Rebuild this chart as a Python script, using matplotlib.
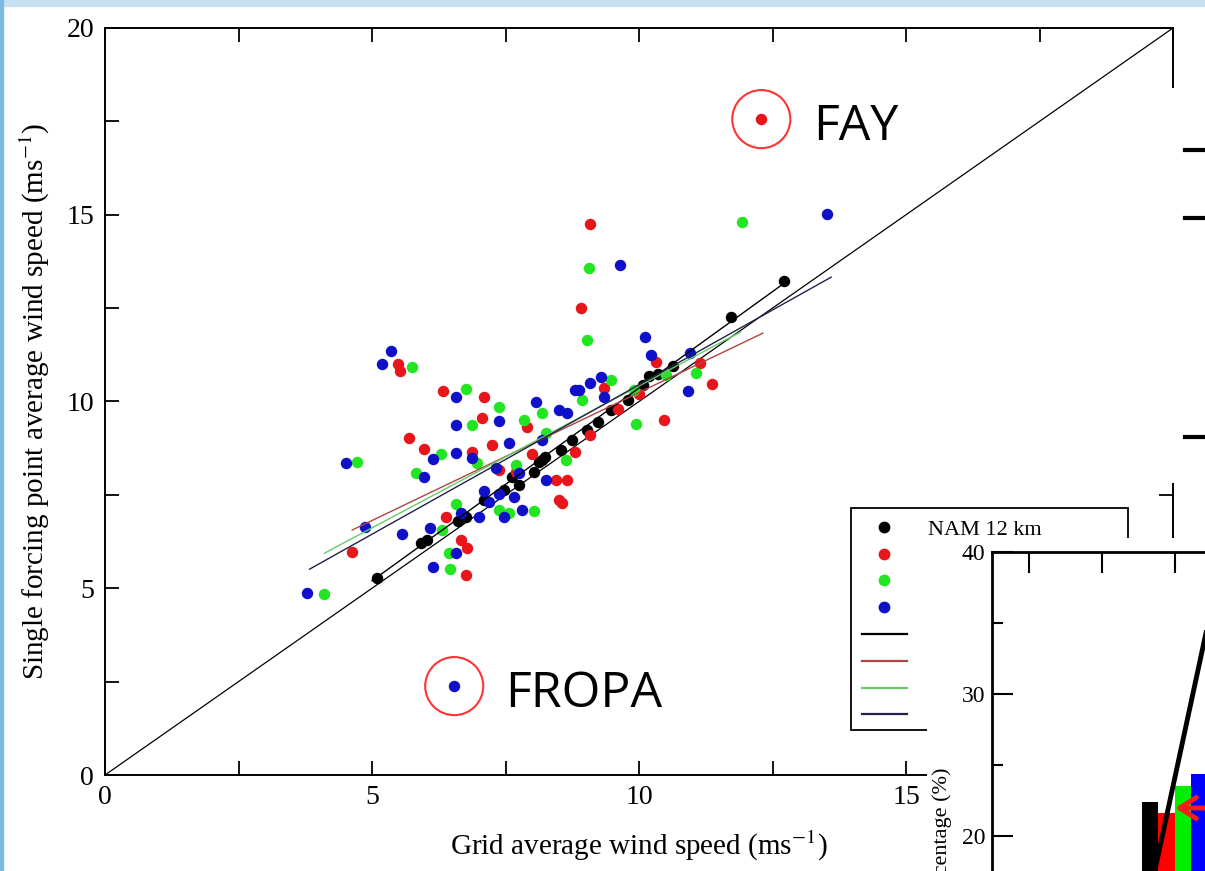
import matplotlib
matplotlib.use("Agg")
import matplotlib.pyplot as plt
from matplotlib.lines import Line2D
from matplotlib.patches import Rectangle
from matplotlib.ticker import MultipleLocator

W, H = 1205, 871

# grid average (x) vs single forcing point (y) wind speed, m/s
black_x = [5.10, 5.92, 6.03, 6.61, 6.76, 7.10, 7.47, 7.62, 7.75, 8.03, 8.12, 8.18, 8.24,
           8.53, 8.74, 9.02, 9.24, 9.47, 9.80, 10.08, 10.19, 10.36, 10.64, 11.73, 12.72]
black_y = [5.27, 6.21, 6.29, 6.80, 6.91, 7.36, 7.63, 7.98, 7.76, 8.11, 8.38, 8.43, 8.51,
           8.70, 8.97, 9.24, 9.45, 9.77, 10.04, 10.44, 10.68, 10.74, 10.95, 12.26, 13.23]

red_x = [12.29, 9.08, 8.91, 11.37, 10.46, 11.15, 10.31, 9.34, 9.09, 5.49, 5.53, 6.33,
         7.10, 7.06, 5.70, 5.98, 6.87, 7.25, 7.38, 8.44, 8.65, 8.81, 8.50, 8.55, 6.39,
         6.67, 6.78, 6.76, 4.63, 7.90, 8.00, 7.70, 9.60, 10.00]
red_y = [17.56, 14.75, 12.50, 10.47, 9.50, 11.03, 11.06, 10.36, 9.10, 11.00, 10.82, 10.28,
         10.12, 9.56, 9.02, 8.73, 8.65, 8.84, 8.17, 7.90, 7.90, 8.65, 7.36, 7.28, 6.91,
         6.29, 6.08, 5.35, 5.97, 9.32, 8.60, 8.10, 9.80, 10.20]

green_x = [11.93, 9.06, 9.02, 5.75, 6.76, 7.38, 6.87, 7.84, 8.18, 6.29, 6.97, 4.71, 5.83,
           4.11, 6.46, 6.44, 11.07, 9.95, 6.57, 6.31, 7.38, 7.56, 8.03, 8.63, 9.47, 8.93,
           8.25, 9.90, 10.50, 7.70]
green_y = [14.81, 13.57, 11.65, 10.92, 10.33, 9.85, 9.37, 9.50, 9.69, 8.59, 8.35, 8.38, 8.09,
           4.85, 5.52, 5.94, 10.76, 9.40, 7.26, 6.56, 7.09, 7.01, 7.07, 8.43, 10.58, 10.04,
           9.16, 10.30, 10.70, 8.30]

blue_x = [13.52, 9.65, 5.36, 5.19, 6.57, 8.07, 8.50, 6.57, 7.38, 6.14, 6.57, 6.87, 4.52,
          5.98, 7.56, 7.32, 7.75, 8.25, 3.79, 5.56, 6.09, 6.14, 6.57, 6.67, 4.86, 7.00,
          7.10, 7.38, 7.20, 7.66, 7.47, 7.81, 8.81, 8.18, 10.12, 10.23, 10.96, 10.92,
          9.28, 9.09, 8.87, 8.65, 9.34, 6.54]
blue_y = [15.02, 13.65, 11.35, 11.00, 10.12, 9.99, 9.77, 9.37, 9.48, 8.46, 8.62, 8.49, 8.35,
          7.98, 8.89, 8.22, 8.09, 7.90, 4.87, 6.45, 6.61, 5.57, 5.94, 7.01, 6.64, 6.91,
          7.60, 7.52, 7.30, 7.44, 6.91, 7.09, 10.31, 8.97, 11.73, 11.24, 11.30, 10.28,
          10.66, 10.50, 10.31, 9.69, 10.12, 2.38]

# linear fits, drawn between their end points
fit_x = [[5.00, 12.75], [4.63, 12.32], [4.11, 11.90], [3.83, 13.60]]
fit_y = [[5.20, 13.20], [6.56, 11.83], [5.94, 11.86], [5.51, 13.33]]

point_colors = ["black", "#e8151b", "#22e622", "#1010c8"]
fit_colors = ["black", "#b04444", "#66cc66", "#22224a"]

# named cases: (label, series index, point index)
events = [("FAY", 1, 0), ("FROPA", 3, len(blue_x) - 1)]

# inset: percentage per model
bar_pos = 3
bar_vals = [22.4, 21.6, 23.5, 24.4]
bar_colors = ["black", "red", "#00ee00", "blue"]


def fig_box(x0, y0, x1, y1):
    return [x0 / W, 1 - y1 / H, (x1 - x0) / W, (y1 - y0) / H]


plt.rcParams["font.family"] = "Liberation Serif"
plt.rcParams["mathtext.fontset"] = "stix"

fig = plt.figure(figsize=(W / 100, H / 100), dpi=100)

ax = fig.add_axes(fig_box(105, 28, 1173, 775))
ax.plot([0, 20], [0, 20], color="black", lw=0.9, zorder=2)

series = [(black_x, black_y), (red_x, red_y), (green_x, green_y), (blue_x, blue_y)]
for (xs, ys), c in zip(series, point_colors):
    ax.scatter(xs, ys, s=68, color=c, linewidths=0, zorder=3)
for xs, ys, c in zip(fit_x, fit_y, fit_colors):
    ax.plot(xs, ys, color=c, lw=1.0, zorder=4)

ax.set_xlim(0, 20)
ax.set_ylim(0, 20)
for axis in (ax.xaxis, ax.yaxis):
    axis.set_major_locator(MultipleLocator(5))
    axis.set_minor_locator(MultipleLocator(2.5))
ax.tick_params(which="both", direction="in", length=10, width=1.3,
               top=True, right=True, labelsize=20)
ax.tick_params(axis="x", pad=7)
ax.tick_params(axis="y", pad=8)
for sp in ax.spines.values():
    sp.set_linewidth(1.4)

ax.set_xlabel("Grid average wind speed (ms$^{-1}$)", fontsize=21, va="baseline")
ax.xaxis.set_label_coords(0.5, -0.107)
ax.set_ylabel("Single forcing point average wind speed (ms$^{-1}$)", fontsize=21)
ax.yaxis.set_label_coords(-0.05, 0.5)

# legend
handles = [Line2D([], [], marker="o", ls="none", color=c, ms=8.5, mew=0) for c in point_colors]
handles += [Line2D([], [], color=c, lw=1.6) for c in fit_colors]
labels = ["NAM 12 km"] + [""] * 7
ax.legend(handles, labels, loc="upper left", bbox_to_anchor=(0.6985, 0.3574),
          frameon=False, fontsize=16, handlelength=2.0, handletextpad=0.95,
          labelspacing=0.28, borderpad=0.5, borderaxespad=0)
ax.add_patch(Rectangle((0.6985, 0.0602), 0.2594, 0.2972, transform=ax.transAxes,
                       fill=False, edgecolor="black", lw=1.3, zorder=5))

# circled events
for name, si, pi in events:
    px, py = series[si][0][pi], series[si][1][pi]
    ax.scatter([px], [py], s=1750, facecolors="none", edgecolors="#ff3333",
               linewidths=1.5, zorder=6)
    ax.annotate(name, xy=(px, py), xytext=(37, -15), textcoords="offset points",
                fontsize=36, family="Open Sans", ha="left", va="baseline")

# panels laid over the right side
fig.add_artist(Rectangle((927 / W, 0), 1, (H - 538) / H, transform=fig.transFigure,
                         facecolor="white", edgecolor="none", zorder=1))
fig.add_artist(Rectangle((1158 / W, 1 - 483 / H), 1, (483 - 88) / H,
                         transform=fig.transFigure, facecolor="white",
                         edgecolor="none", zorder=1))
for ty in (150, 218, 437):
    fig.add_artist(Line2D([1185 / W, 1.0], [1 - ty / H] * 2, color="black", lw=3,
                          transform=fig.transFigure, zorder=2))

bx = fig.add_axes(fig_box(992, 552, 992 + 365, 1120))
bx.set_zorder(3)
w = 0.225
for i, (v, c) in enumerate(zip(bar_vals, bar_colors)):
    bx.bar(bar_pos + (i - 1.5) * w, v, width=w, color=c, linewidth=0)
bx.set_xlim(0.5, 5.5)
bx.set_ylim(0, 40)
bx.set_xticks([1, 2, 3, 4, 5])
bx.yaxis.set_major_locator(MultipleLocator(10))
bx.yaxis.set_minor_locator(MultipleLocator(5))
bx.tick_params(which="major", direction="in", length=15, width=1.5, top=True,
               labelbottom=False, labelsize=17, pad=5)
bx.tick_params(which="minor", direction="in", length=8, width=1.5)
for sp in bx.spines.values():
    sp.set_linewidth(2)
bx.set_ylabel("Percentage (%)", fontsize=16)
bx.yaxis.set_label_coords(-0.11, 0.5)

bx.plot([2.73, 3.67], [17.54, 40.0], color="black", lw=3.5)
bx.annotate("", xy=(2.97, 21.97), xytext=(4.2, 21.97),
            arrowprops=dict(arrowstyle="->,head_length=0.6,head_width=0.38",
                            color="#ff1a1a", lw=3.5, mutation_scale=20))

# slide frame
fig.add_artist(Rectangle((0, 1 - 6 / H), 1, 6 / H, transform=fig.transFigure,
                         color="#c6e0f0", zorder=10))
fig.add_artist(Rectangle((0, 0), 3 / W, 1, transform=fig.transFigure,
                         color="#7db9e2", zorder=10))

fig.savefig("out.png", dpi=100)
